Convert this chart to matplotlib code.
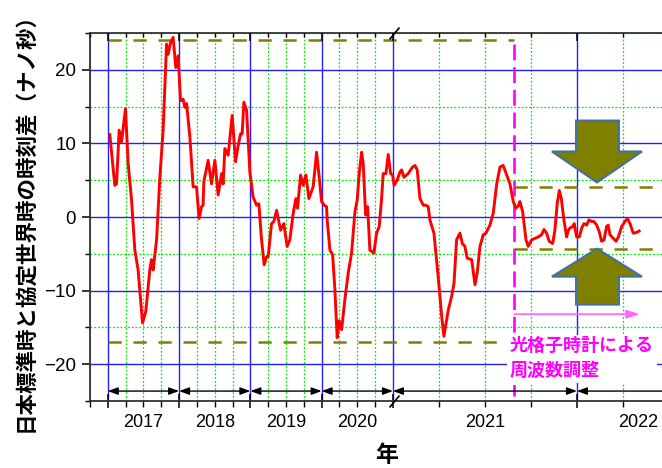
import numpy as np
import matplotlib
matplotlib.use("Agg")
import matplotlib.pyplot as plt

plt.rcParams["font.family"] = ["Liberation Sans", "Noto Sans CJK JP"]

# ---- data -------------------------------------------------------------
years = [
    2016.528, 2016.598, 2016.622, 2016.659, 2016.692, 2016.748, 2016.785,
    2016.833, 2016.879, 2016.925, 2016.987, 2017.033, 2017.089, 2017.113,
    2017.136, 2017.184, 2017.230, 2017.276, 2017.324, 2017.346, 2017.380,
    2017.416, 2017.454, 2017.487, 2017.520, 2017.557, 2017.581, 2017.605,
    2017.651, 2017.697, 2017.745, 2017.781, 2017.815, 2017.837, 2017.847,
    2017.908, 2017.955, 2018.002, 2018.048, 2018.096, 2018.118, 2018.142,
    2018.188, 2018.245, 2018.292, 2018.329, 2018.362, 2018.385, 2018.409,
    2018.447, 2018.493, 2018.539, 2018.587, 2018.619, 2018.657, 2018.694,
    2018.727, 2018.750, 2018.797, 2018.830, 2018.868, 2018.924, 2018.970,
    2019.016, 2019.054, 2019.101, 2019.139, 2019.162, 2019.205, 2019.241,
    2019.279, 2019.321, 2019.381, 2019.429, 2019.466, 2019.499, 2019.536,
    2019.569, 2019.578, 2019.616, 2019.654, 2019.686, 2019.718, 2019.746,
    2019.780, 2019.826, 2019.873, 2019.920, 2019.967, 2019.999, 2020.027,
    2020.061, 2020.083, 2020.117, 2020.145, 2020.177, 2020.233, 2020.271,
    2020.308, 2020.341, 2020.364, 2020.402, 2020.434, 2020.468, 2020.496,
    2020.507, 2020.523, 2020.538, 2020.547, 2020.560, 2020.583, 2020.607,
    2020.620, 2020.632, 2020.647, 2020.665, 2020.679, 2020.692, 2020.701,
    2020.723, 2020.746, 2020.765, 2020.777, 2020.801, 2020.819, 2020.832,
    2020.846, 2020.864, 2020.877, 2020.891, 2020.904, 2020.928, 2020.946,
    2020.958, 2020.973, 2020.991, 2021.005, 2021.027, 2021.045, 2021.064,
    2021.082, 2021.099, 2021.118, 2021.136, 2021.154, 2021.168, 2021.181,
    2021.190, 2021.205, 2021.223, 2021.235, 2021.254, 2021.272, 2021.290,
    2021.308, 2021.321, 2021.335, 2021.349, 2021.368, 2021.380, 2021.393,
    2021.404, 2021.415, 2021.429, 2021.444, 2021.453, 2021.462, 2021.477,
    2021.485, 2021.498, 2021.513, 2021.526, 2021.538, 2021.553, 2021.565,
    2021.580, 2021.592, 2021.607, 2021.621, 2021.634, 2021.647, 2021.661,
    2021.670, 2021.679, 2021.697, 2021.712, 2021.725, 2021.743, 2021.761,
    2021.774, 2021.788, 2021.806, 2021.824, 2021.838,
]
diff_ns = [
    11.2, 4.3, 4.5, 11.8, 10.2, 14.7, 7.3,
    2.3, -4.5, -7.2, -14.4, -12.8, -7.2, -5.8,
    -7.2, -3.1, 5.4, 11.8, 23.5, 22.1, 23.7,
    24.4, 20.3, 21.9, 15.8, 16.0, 14.9, 15.4,
    10.9, 4.1, 4.1, -0.2, 1.4, 1.6, 4.8,
    7.7, 4.5, 7.7, 3.0, 5.9, 4.5, 9.3,
    8.4, 13.8, 7.5, 9.7, 11.3, 11.3, 15.6,
    14.5, 6.1, 2.7, 1.6, 1.8, -3.1, -6.5,
    -5.4, -5.4, -0.9, -0.6, 0.9, -1.8, -0.9,
    -4.0, -3.1, 0.5, 2.5, 1.2, 5.7, 4.3,
    5.7, 2.5, 4.1, 8.8, 5.4, 2.1, 1.6,
    1.4, -0.4, -4.5, -5.1, -9.9, -16.4, -14.1,
    -15.3, -11.2, -7.6, -4.9, 0.7, 2.3, 5.9,
    8.8, 7.3, 0.3, 1.4, -4.5, -4.9, -2.2,
    -1.3, 2.5, 5.9, 5.9, 8.5, 5.9, 5.7,
    4.3, 5.0, 6.1, 6.4, 5.4, 5.9, 6.8,
    7.0, 6.4, 2.5, 1.6, 1.6, 1.4, -0.4,
    -2.2, -8.1, -13.5, -16.2, -12.6, -10.8, -9.0,
    -3.1, -2.2, -3.6, -4.0, -5.6, -5.8, -9.2,
    -7.6, -4.0, -2.4, -2.2, -1.1, 0.5, 4.5,
    6.8, 7.0, 5.7, 4.5, 2.1, 1.2, 1.5,
    2.1, 0.7, -3.1, -4.0, -3.1, -2.9, -2.7,
    -2.4, -1.7, -2.2, -3.3, -3.6, -1.8, 1.9,
    3.6, 2.5, -0.4, -2.7, -1.8, -1.5, -1.3,
    -0.9, -2.7, -2.7, -1.5, -0.9, -1.1, -0.4,
    -0.6, -0.6, -1.1, -2.0, -3.3, -3.1, -1.3,
    -1.1, -2.4, -2.9, -3.3, -2.7, -1.3, -0.6,
    -0.2, -0.9, -2.2, -2.1, -1.9,
]

year_bounds = [2016.5, 2017.5, 2018.5, 2019.5, 2020.5, 2021.5]
year_labels = ["2017", "2018", "2019", "2020", "2021", "2022"]
year_label_pos = [2017.0, 2018.0, 2019.0, 2020.0, 2021.0, 2021.832]
quarters = [2016.25, 2016.75, 2017.0, 2017.25, 2017.75, 2018.0, 2018.25,
            2018.75, 2019.0, 2019.25, 2019.75, 2020.0, 2020.25,
            2020.75, 2021.0, 2021.25, 2021.75]

t_adjust = 2021.16          # start of optical lattice clock steering
band_before = [24.0, -17.0]
band_after = [4.05, -4.3]

# ---- broken x scale: 2020.5 onwards is stretched -------------------------
BRK = 2020.5
K = 184.0 / 71.25


def fwd(t):
    t = np.asarray(t, dtype=float)
    return np.where(t <= BRK, t, BRK + (t - BRK) * K)


def inv(u):
    u = np.asarray(u, dtype=float)
    return np.where(u <= BRK, u, BRK + (u - BRK) / K)


XMIN, XMAX = 2016.25, 2021.962

fig = plt.figure(figsize=(6.62, 4.68), dpi=100)
ax = fig.add_axes([90 / 662, 67 / 468, 572 / 662, 368 / 468])
ax.set_xscale("function", functions=(fwd, inv))
ax.set_xlim(XMIN, XMAX)
ax.set_ylim(-25, 25)

# grid
ax.set_xticks(year_bounds)
ax.set_xticks(quarters, minor=True)
ax.set_yticks([-20, -10, 0, 10, 20])
ax.set_yticks([-25, -15, -5, 5, 15, 25], minor=True)
ax.set_xticklabels([])
ax.grid(which="major", color="#2020ff", lw=1.0, zorder=0)
ax.grid(which="minor", color="#00ee00", lw=0.9, ls=(0, (1.5, 1.5)), zorder=0)
ax.set_axisbelow(True)

ax.tick_params(axis="y", which="major", direction="out", length=6,
               width=1.1, labelsize=13.5, pad=4, right=False)
ax.tick_params(axis="y", which="minor", direction="out", length=3.5,
               width=1.0, right=False)
ax.tick_params(axis="x", which="major", direction="inout", length=10,
               width=1.1, top=False)
ax.tick_params(axis="x", which="minor", direction="out", length=4,
               width=1.0, top=False)
for side in ["left", "bottom", "top"]:
    ax.spines[side].set_color("#333333")
    ax.spines[side].set_linewidth(1.3)
ax.spines["right"].set_visible(False)

# top ticks pointing inward
ax_top = ax.twiny()
ax_top.set_xscale("function", functions=(fwd, inv))
ax_top.set_xlim(XMIN, XMAX)
ax_top.set_xticks(year_bounds)
ax_top.set_xticks(quarters, minor=True)
ax_top.set_xticklabels([])
ax_top.tick_params(axis="x", which="major", direction="in", length=6,
                   width=1.1)
ax_top.tick_params(axis="x", which="minor", direction="in", length=3,
                   width=1.0)
for s in ax_top.spines.values():
    s.set_visible(False)

# year labels
for pos, lab in zip(year_label_pos, year_labels):
    ax.text(pos, -0.035, lab, transform=ax.get_xaxis_transform(),
            ha="center", va="top", fontsize=13)

# olive bands
dash_kw = dict(color="#808000", lw=1.8, dashes=(5.3, 4.7), zorder=2)
for lev in band_before:
    ax.plot([year_bounds[0], t_adjust], [lev, lev], **dash_kw)
for lev in band_after:
    ax.plot([t_adjust, XMAX], [lev, lev], **dash_kw)

# data line
ax.plot(years, diff_ns, color="#ff0000", lw=2.1, zorder=4)

# steering start
ax.plot([t_adjust, t_adjust], [23.5, -24.3], color="#ff00ff", lw=1.9,
        dashes=(6, 2.6), zorder=3)
ax.annotate("", xy=(2021.842, -13.2), xytext=(t_adjust, -13.2),
            arrowprops=dict(arrowstyle="-|>,head_length=0.8,head_width=0.25",
                            color="#ff66ff", lw=1.2, shrinkA=0, shrinkB=0,
                            mutation_scale=10), zorder=5)
ax.text(2021.136, -19.3, "光格子時計による\n周波数調整", color="#ff00ff",
        fontsize=13, fontweight="bold", ha="left", va="center",
        linespacing=1.55, zorder=6,
        bbox=dict(facecolor="white", edgecolor="none", pad=2))

# big olive arrows
shaft = [2021.495, 2021.728]
head = [2021.364, 2021.853]
tip = 2021.609
down = [(shaft[0], 13.1), (shaft[1], 13.1), (shaft[1], 8.9), (head[1], 8.9),
        (tip, 4.7), (head[0], 8.9), (shaft[0], 8.9)]
up = [(shaft[0], -11.9), (shaft[1], -11.9), (shaft[1], -8.1), (head[1], -8.1),
      (tip, -4.3), (head[0], -8.1), (shaft[0], -8.1)]
for pts in (down, up):
    ax.add_patch(plt.Polygon(pts, closed=True, facecolor="#808000",
                             edgecolor="#41719c", lw=1.5, zorder=5))

# year span arrows along the bottom
arr = "<|-|>,head_length=0.6,head_width=0.22"
for a, b in zip(year_bounds[:-1], year_bounds[1:]):
    ax.annotate("", xy=(b, -23.65), xytext=(a, -23.65),
                arrowprops=dict(arrowstyle=arr, color="black", lw=1.0,
                                shrinkA=0, shrinkB=0, mutation_scale=10))
ax.annotate("", xy=(XMAX, -23.65), xytext=(year_bounds[-1], -23.65),
            arrowprops=dict(arrowstyle="<|-,head_length=0.6,head_width=0.22",
                            color="black", lw=1.0, shrinkA=0, shrinkB=0,
                            mutation_scale=10))

# break marks
for yy in (1, 0):
    ax.plot([BRK + 0.008], [yy], transform=ax.get_xaxis_transform(),
            marker=[(-10, -12), (10, 12)], ms=8.6, mfc="none", mec="black",
            mew=1.2, clip_on=False, zorder=7)

ax.set_ylabel("日本標準時と協定世界時の時刻差（ナノ秒）", fontsize=15.5,
              fontweight="bold", labelpad=5)
fig.text(386.7 / 662, 1 - 455 / 468, "年", fontsize=16.5, fontweight="bold",
         ha="center", va="center")

fig.savefig("out.png", dpi=100)
